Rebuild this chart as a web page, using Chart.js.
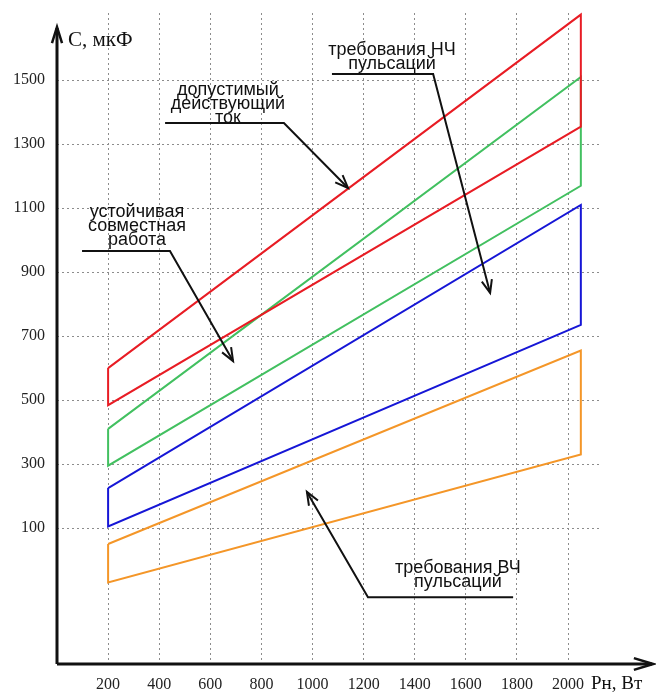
<!DOCTYPE html>
<html>
<head>
<meta charset="utf-8">
<script src="https://cdn.jsdelivr.net/npm/chart.js@4.4.0/dist/chart.umd.min.js"></script>
<style>
  body { margin: 0; background: #fff; }
  #wrap { width: 656px; height: 694px; }
</style>
</head>
<body>
<div id="wrap"><canvas id="canvas" width="656" height="694"></canvas></div>
<script>
// load power Рн, W (left and right end of each band)
var powerEnds = [200, 2050];
var xTicks = [200, 400, 600, 800, 1000, 1200, 1400, 1600, 1800, 2000];
var yTicks = [100, 300, 500, 700, 900, 1100, 1300, 1500];

// capacitance C, uF: [at 200 W, at 2050 W]
var currentTop = [600, 1705];      // допустимый действующий ток
var currentBottom = [484, 1355];
var stableTop = [410, 1510];       // устойчивая совместная работа
var stableBottom = [295, 1170];
var lfTop = [225, 1110];           // требования НЧ пульсаций
var lfBottom = [105, 735];
var hfTop = [50, 655];             // требования ВЧ пульсаций
var hfBottom = [-70, 330];

function band(top, bottom) {
    return [
        {x: powerEnds[0], y: top[0]},
        {x: powerEnds[1], y: top[1]},
        {x: powerEnds[1], y: bottom[1]},
        {x: powerEnds[0], y: bottom[0]},
        {x: powerEnds[0], y: top[0]}
    ];
}

function bandSet(top, bottom, color) {
    return {
        data: band(top, bottom),
        showLine: true,
        borderColor: color,
        backgroundColor: color,
        borderWidth: 2,
        pointRadius: 0,
        fill: false,
        clip: false,
        borderJoinStyle: 'miter'
    };
}

// callouts, positions in chart units
var notes = [
    {lines: ['допустимый', 'действующий', 'ток'], at: [669, 1469],
     leader: [[423, 1366], [888, 1366], [1139, 1163]]},
    {lines: ['требования НЧ', 'пульсаций'], at: [1311, 1594],
     leader: [[1076, 1519], [1472, 1519], [1695, 835]]},
    {lines: ['устойчивая', 'совместная', 'работа'], at: [313, 1088],
     leader: [[98, 966], [442, 966], [689, 622]]},
    {lines: ['требования ВЧ', 'пульсаций'], at: [1569, -25],
     leader: [[1785, -116], [1217, -116], [978, 213]]}
];

function arrowHead(ctx, x0, y0, x1, y1, len, ang) {
    var a = Math.atan2(y1 - y0, x1 - x0);
    ctx.beginPath();
    ctx.moveTo(x1 - len * Math.cos(a - ang), y1 - len * Math.sin(a - ang));
    ctx.lineTo(x1, y1);
    ctx.lineTo(x1 - len * Math.cos(a + ang), y1 - len * Math.sin(a + ang));
    ctx.stroke();
}

var decorations = {
    id: 'decorations',
    afterDraw: function(chart) {
        var ctx = chart.ctx;
        var a = chart.chartArea;
        var xs = chart.scales.x, ys = chart.scales.y;
        ctx.save();

        // axes with arrows
        ctx.strokeStyle = '#111';
        ctx.lineWidth = 3;
        ctx.beginPath();
        ctx.moveTo(a.left, a.bottom);
        ctx.lineTo(a.left, 28);
        ctx.moveTo(a.left, a.bottom);
        ctx.lineTo(652, a.bottom);
        ctx.stroke();
        ctx.lineWidth = 2.5;
        arrowHead(ctx, a.left, a.bottom, a.left, 27, 17, 0.3);
        arrowHead(ctx, a.left, a.bottom, 653, a.bottom, 20, 0.3);

        // axis titles
        ctx.fillStyle = '#111';
        ctx.textBaseline = 'middle';
        ctx.textAlign = 'left';
        ctx.font = '21px "Liberation Serif", "Times New Roman", serif';
        ctx.fillText('С, мкФ', a.left + 11, 40);
        ctx.font = '19px "Liberation Serif", "Times New Roman", serif';
        ctx.fillText('Рн, Вт', 591, 684);

        // callouts
        ctx.font = '18px "Liberation Sans", Arial, sans-serif';
        ctx.textAlign = 'center';
        notes.forEach(function(n) {
            var cx = xs.getPixelForValue(n.at[0]);
            var cy = ys.getPixelForValue(n.at[1]);
            n.lines.forEach(function(t, i) {
                ctx.fillText(t, cx, cy + i * 14);
            });
            var pts = n.leader.map(function(p) {
                return [xs.getPixelForValue(p[0]), ys.getPixelForValue(p[1])];
            });
            ctx.strokeStyle = '#111';
            ctx.lineWidth = 2;
            ctx.beginPath();
            ctx.moveTo(pts[0][0], pts[0][1]);
            for (var i = 1; i < pts.length; i++) ctx.lineTo(pts[i][0], pts[i][1]);
            ctx.stroke();
            var p0 = pts[pts.length - 2], p1 = pts[pts.length - 1];
            arrowHead(ctx, p0[0], p0[1], p1[0], p1[1], 14, 0.38);
        });
        ctx.restore();
    }
};

var tickFont = {family: '"Liberation Serif", "Times New Roman", serif', size: 16};
function plain(v) { return String(v); }

var chart = new Chart(document.getElementById('canvas'), {
    type: 'scatter',
    data: {
        datasets: [
            bandSet(currentTop, currentBottom, 'rgb(232, 28, 36)'),
            bandSet(stableTop, stableBottom, 'rgb(66, 192, 96)'),
            bandSet(lfTop, lfBottom, 'rgb(22, 22, 214)'),
            bandSet(hfTop, hfBottom, 'rgb(244, 150, 40)')
        ]
    },
    options: {
        responsive: false,
        animation: false,
        layout: {padding: {left: 0, right: 56, top: 13, bottom: 0}},
        plugins: {legend: {display: false}, tooltip: {enabled: false}},
        scales: {
            x: {
                type: 'linear',
                min: 0,
                max: 2125,
                afterBuildTicks: function(s) { s.ticks = xTicks.map(function(v) { return {value: v}; }); },
                afterFit: function(s) { s.height = 30; s.paddingLeft = 0; s.paddingRight = 0; },
                grid: {color: '#8c8c8c', lineWidth: 1, drawTicks: false},
                border: {display: false, dash: [2, 3]},
                ticks: {font: tickFont, color: '#222', padding: 11, maxRotation: 0, autoSkip: false, callback: plain}
            },
            y: {
                min: -325,
                max: 1710,
                afterBuildTicks: function(s) { s.ticks = yTicks.map(function(v) { return {value: v}; }); },
                afterFit: function(s) { s.width = 57; s.paddingTop = 0; s.paddingBottom = 0; },
                grid: {color: '#8c8c8c', lineWidth: 1, drawTicks: false},
                border: {display: false, dash: [2, 3]},
                ticks: {font: tickFont, color: '#222', padding: 12, autoSkip: false, callback: plain}
            }
        }
    },
    plugins: [decorations]
});
</script>
</body>
</html>
